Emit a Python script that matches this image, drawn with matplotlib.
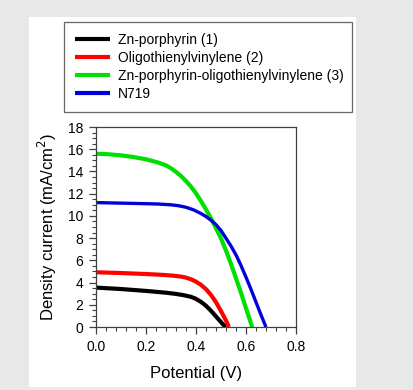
import matplotlib
matplotlib.use("Agg")
import matplotlib.pyplot as plt
from matplotlib.patches import Rectangle
from matplotlib.ticker import MultipleLocator, FormatStrFormatter

plt.rcParams['font.family'] = ['Liberation Sans', 'DejaVu Sans']

# J-V curves, potential (V) vs density current (mA/cm2)
v_zn = [0.00, 0.10, 0.20, 0.28, 0.32, 0.35, 0.38, 0.40, 0.42, 0.44, 0.46, 0.48, 0.50, 0.51, 0.52]
j_zn = [3.55, 3.42, 3.25, 3.09, 2.98, 2.87, 2.72, 2.54, 2.27, 1.92, 1.47, 0.96, 0.45, 0.20, 0.00]

v_olig = [0.00, 0.10, 0.20, 0.27, 0.31, 0.34, 0.36, 0.38, 0.40, 0.42, 0.44, 0.46, 0.48, 0.50,
          0.52, 0.532]
j_olig = [4.93, 4.86, 4.77, 4.69, 4.62, 4.54, 4.45, 4.30, 4.09, 3.80, 3.42, 2.90, 2.25, 1.45,
          0.60, 0.00]

v_dyad = [0.00, 0.05, 0.10, 0.15, 0.20, 0.25, 0.28, 0.30, 0.32, 0.34, 0.36, 0.38, 0.40,
          0.42, 0.44, 0.46, 0.48, 0.50, 0.52, 0.54, 0.56, 0.58, 0.60, 0.625]
j_dyad = [15.6, 15.55, 15.45, 15.3, 15.1, 14.8, 14.55, 14.3, 13.97, 13.6, 13.15, 12.65, 12.05,
          11.35, 10.6, 9.8, 8.9, 8.0, 6.9, 5.7, 4.4, 3.1, 1.7, 0.0]

v_n719 = [0.00, 0.10, 0.20, 0.25, 0.30, 0.33, 0.36, 0.39, 0.42, 0.44, 0.46, 0.48, 0.50, 0.52,
          0.54, 0.56, 0.58, 0.60, 0.62, 0.64, 0.66, 0.68]
j_n719 = [11.2, 11.15, 11.1, 11.07, 11.0, 10.92, 10.78, 10.55, 10.22, 9.95, 9.62, 9.22, 8.7, 8.0,
          7.3, 6.5, 5.55, 4.5, 3.4, 2.25, 1.1, 0.0]

labels = ["Zn-porphyrin (1)", "Oligothienylvinylene (2)",
          "Zn-porphyrin-oligothienylvinylene (3)", "N719"]

fig = plt.figure(figsize=(4.14, 3.9), dpi=100, facecolor="#e8e8e8")
fig.patches.append(Rectangle((0.070, 0.0077), 0.79, 0.9487, transform=fig.transFigure,
                             facecolor="white", edgecolor="none", zorder=-1))

ax = fig.add_axes([0.2312, 0.1615, 0.4838, 0.5128])
ax.plot(v_zn, j_zn, color="black", lw=3.0, label=labels[0], solid_capstyle="butt")
ax.plot(v_olig, j_olig, color="red", lw=3.0, label=labels[1], solid_capstyle="butt")
ax.plot(v_dyad, j_dyad, color="#00e000", lw=3.0, label=labels[2], solid_capstyle="butt")
ax.plot(v_n719, j_n719, color="#0000dd", lw=2.4, label=labels[3], solid_capstyle="butt")

ax.set_xlim(0, 0.8)
ax.set_ylim(0, 18)
ax.xaxis.set_major_locator(MultipleLocator(0.2))
ax.xaxis.set_minor_locator(MultipleLocator(0.04))
ax.yaxis.set_major_locator(MultipleLocator(2))
ax.yaxis.set_minor_locator(MultipleLocator(0.5))
ax.xaxis.set_major_formatter(FormatStrFormatter('%.1f'))
ax.tick_params(which="major", direction="out", length=5, width=0.9, color="#404040",
               labelsize=10, pad=4)
ax.tick_params(which="minor", direction="out", length=3, width=0.8, color="#404040")
for s in ax.spines.values():
    s.set_color("#404040")
    s.set_linewidth(0.9)

ax.set_xlabel("Potential (V)", fontsize=12, labelpad=9)
ax.set_ylabel("Density current (mA/cm$^2$)", fontsize=12, labelpad=6)

leg = fig.legend(loc="upper left", bbox_to_anchor=(0.1546, 0.7205, 0.6956, 0.2231),
                 mode="expand", fontsize=10, frameon=True, fancybox=False,
                 edgecolor="#404040", borderaxespad=0, handlelength=2.5,
                 labelspacing=0.28, borderpad=0.8, handletextpad=0.6)
leg.get_frame().set_linewidth(0.9)
for h in leg.get_lines():
    h.set_linewidth(3.0)

fig.savefig("out.png", dpi=100, facecolor=fig.get_facecolor())
